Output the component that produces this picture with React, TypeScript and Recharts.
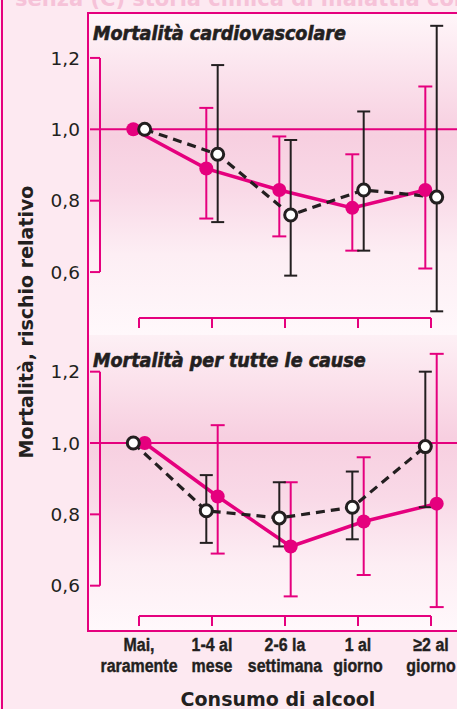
import React from 'react';
import { ComposedChart, Line, XAxis, YAxis, ErrorBar, ReferenceLine } from 'recharts';

// Consumption categories (two-line tick labels)
const catLine1 = ['Mai,', '1-4 al', '2-6 la', '1 al', '\u22652 al'];
const catLine2 = ['raramente', 'mese', 'settimana', 'giorno', 'giorno'];
const yTicks = [0.6, 0.8, 1.0, 1.2];

// Cardiovascular mortality: relative risk and 95% CI
const cvPink = [1.0, 0.89, 0.83, 0.78, 0.83];
const cvPinkLow = [null, 0.75, 0.7, 0.66, 0.61];
const cvPinkHigh = [null, 1.06, 0.98, 0.93, 1.12];
const cvDark = [1.0, 0.93, 0.76, 0.83, 0.81];
const cvDarkLow = [null, 0.74, 0.59, 0.66, 0.49];
const cvDarkHigh = [null, 1.18, 0.97, 1.05, 1.29];

// All-cause mortality: relative risk and 95% CI
const allPink = [1.0, 0.85, 0.71, 0.78, 0.83];
const allPinkLow = [null, 0.69, 0.57, 0.63, 0.54];
const allPinkHigh = [null, 1.05, 0.89, 0.96, 1.25];
const allDark = [1.0, 0.81, 0.79, 0.82, 0.99];
const allDarkLow = [null, 0.72, 0.71, 0.73, 0.82];
const allDarkHigh = [null, 0.91, 0.89, 0.92, 1.2];

const MAGENTA = '#e5007e';
const DARK = '#231f20';
const SHIFT = 0.078; // the two series sit slightly apart around each category
const X_DOMAIN: [number, number] = [-0.534, 4.534];
const TICK_LEN = 10;

const buildRows = (vals: number[], low: (number | null)[], high: (number | null)[], shift: number) =>
  vals.map((v, i) => ({
    x: i + shift,
    rr: v,
    ci: low[i] == null || high[i] == null ? null : [v - (low[i] as number), (high[i] as number) - v],
  }));

const PinkDot = (props: any) => {
  const { cx, cy } = props;
  return <circle cx={cx} cy={cy} r={7} fill={MAGENTA} stroke="none" />;
};

const OpenDot = (props: any) => {
  const { cx, cy } = props;
  return <circle cx={cx} cy={cy} r={6} fill="#fff" stroke={DARK} strokeWidth={3} />;
};

// narrow bold label, squeezed horizontally
const labelStyle: React.CSSProperties = {
  fontFamily: "'Liberation Sans', Arial, sans-serif",
  fontWeight: 700,
  fontSize: 19,
  fill: DARK,
  stroke: DARK,
  strokeWidth: 0.4,
};

// tick mark hanging below the bracket, plus optional two-line label
const CategoryTick = (props: any) => {
  const { x, y, payload, showLabels } = props;
  const i = Math.round(payload.value);
  return (
    <g>
      <line x1={x} y1={y - TICK_LEN} x2={x} y2={y} stroke={MAGENTA} strokeWidth={2} />
      {showLabels && (
        <>
          <text transform={`translate(${x},${y + 25}) scale(0.84,1)`} textAnchor="middle" style={labelStyle}>
            {catLine1[i]}
          </text>
          <text transform={`translate(${x},${y + 46}) scale(0.84,1)`} textAnchor="middle" style={labelStyle}>
            {catLine2[i]}
          </text>
        </>
      )}
    </g>
  );
};

interface PanelProps {
  top: number;
  height: number;
  xAxisHeight: number;
  yDomain: [number, number];
  pink: ReturnType<typeof buildRows>;
  dark: ReturnType<typeof buildRows>;
  showLabels: boolean;
}

const Panel = ({ top, height, xAxisHeight, yDomain, pink, dark, showLabels }: PanelProps) => (
  <div style={{ position: 'absolute', left: 0, top }}>
    <ComposedChart width={470} height={height} margin={{ top: 1, right: 0, bottom: 0, left: 0 }}>
      <XAxis
        type="number"
        dataKey="x"
        domain={X_DOMAIN}
        ticks={[0, 1, 2, 3, 4]}
        axisLine={false}
        tickLine={false}
        tickSize={TICK_LEN}
        tickMargin={0}
        height={xAxisHeight}
        tick={<CategoryTick showLabels={showLabels} />}
        label={
          showLabels
            ? {
                value: 'Consumo di alcool',
                position: 'insideBottom',
                offset: 3,
                dx: -7,
                style: { fontFamily: "'DejaVu Sans', sans-serif", fontWeight: 700, fontSize: 19, fill: DARK },
              }
            : undefined
        }
      />
      <YAxis
        type="number"
        domain={yDomain}
        allowDataOverflow
        ticks={yTicks}
        width={100}
        axisLine={false}
        tickLine={{ stroke: MAGENTA, strokeWidth: 2 }}
        tickSize={TICK_LEN}
        tickMargin={10}
        tickFormatter={(v: number) => v.toFixed(1).replace('.', ',')}
        tick={{ fontFamily: "'DejaVu Sans', sans-serif", fontSize: 18.5, fill: DARK }}
      />
      {/* axis brackets */}
      <ReferenceLine
        segment={[{ x: X_DOMAIN[0], y: 0.6 }, { x: X_DOMAIN[0], y: 1.2 }]}
        stroke={MAGENTA}
        strokeWidth={2}
        ifOverflow="visible"
      />
      <ReferenceLine
        segment={[{ x: 0, y: yDomain[0] }, { x: 4, y: yDomain[0] }]}
        stroke={MAGENTA}
        strokeWidth={2}
        ifOverflow="visible"
      />
      <ReferenceLine y={1} stroke={MAGENTA} strokeWidth={2} ifOverflow="visible" />
      <Line
        data={pink}
        dataKey="rr"
        stroke={MAGENTA}
        strokeWidth={3.5}
        dot={<PinkDot />}
        activeDot={false}
        isAnimationActive={false}
      >
        <ErrorBar dataKey="ci" direction="y" width={7} stroke={MAGENTA} strokeWidth={2} isAnimationActive={false} />
      </Line>
      <Line
        data={dark}
        dataKey="rr"
        stroke={DARK}
        strokeWidth={3.2}
        strokeDasharray="9 6"
        dot={<OpenDot />}
        activeDot={false}
        isAnimationActive={false}
      >
        <ErrorBar dataKey="ci" direction="y" width={6.5} stroke={DARK} strokeWidth={2} isAnimationActive={false} />
      </Line>
    </ComposedChart>
  </div>
);

export default function App() {
  const cvPinkRows = buildRows(cvPink, cvPinkLow, cvPinkHigh, -SHIFT);
  const cvDarkRows = buildRows(cvDark, cvDarkLow, cvDarkHigh, SHIFT);
  const allPinkRows = buildRows(allPink, allPinkLow, allPinkHigh, SHIFT);
  const allDarkRows = buildRows(allDark, allDarkLow, allDarkHigh, -SHIFT);

  // heavy condensed italic panel titles
  const titleStyle: React.CSSProperties = {
    fontFamily: "'DejaVu Sans Condensed', 'DejaVu Sans', sans-serif",
    fontStretch: 'condensed',
    fontStyle: 'italic',
    fontWeight: 700,
    fontSize: 19.5,
    fill: DARK,
    stroke: DARK,
    strokeWidth: 0.6,
  };

  return (
    <div
      style={{
        position: 'absolute',
        left: 0,
        top: 0,
        width: 457,
        height: 709,
        overflow: 'hidden',
        background: '#fde9f1',
      }}
    >
      {/* page edge rule */}
      <div style={{ position: 'absolute', left: 1, top: 0, width: 2, height: 709, background: MAGENTA }} />
      {/* framed plot panel with soft pink bands */}
      <div
        style={{
          position: 'absolute',
          left: 87,
          top: 12,
          width: 400,
          height: 616,
          border: `2px solid ${MAGENTA}`,
          overflow: 'hidden',
        }}
      >
        <div
          style={{
            position: 'absolute',
            left: 0,
            top: 0,
            width: '100%',
            height: 321,
            background:
              'linear-gradient(to bottom, #fff6f9 0%, #fbe3ed 18%, #f7cfe0 38%, #f9d9e7 55%, #fdeef4 75%, #fff8fb 100%)',
          }}
        />
        <div
          style={{
            position: 'absolute',
            left: 0,
            top: 321,
            width: '100%',
            height: 295,
            background:
              'linear-gradient(to bottom, #fdf0f5 0%, #fbe2ec 15%, #f7cfe0 35%, #f9d9e7 55%, #fdeef4 78%, #fff8fb 100%)',
          }}
        />
      </div>
      <Panel
        top={14}
        height={321}
        xAxisHeight={17}
        yDomain={[0.4713, 1.3203]}
        pink={cvPinkRows}
        dark={cvDarkRows}
        showLabels={false}
      />
      <Panel
        top={339}
        height={370}
        xAxisHeight={93}
        yDomain={[0.515, 1.2888]}
        pink={allPinkRows}
        dark={allDarkRows}
        showLabels
      />
      <svg width={457} height={709} style={{ position: 'absolute', left: 0, top: 0, pointerEvents: 'none' }}>
        <text
          x={15}
          y={6}
          style={{ fontFamily: "'DejaVu Sans', sans-serif", fontWeight: 700, fontSize: 21, fill: '#f6c2d8' }}
        >
          senza (C) storia clinica di malattia coronarica
        </text>
        <text x={93} y={40} style={titleStyle}>Mortalità cardiovascolare</text>
        <text x={93} y={367} style={titleStyle}>Mortalità per tutte le cause</text>
        <text
          x={0}
          y={0}
          transform="translate(33 322) rotate(-90)"
          textAnchor="middle"
          style={{ fontFamily: "'DejaVu Sans', sans-serif", fontWeight: 700, fontSize: 19, fill: DARK }}
        >
          Mortalità, rischio relativo
        </text>
      </svg>
    </div>
  );
}
